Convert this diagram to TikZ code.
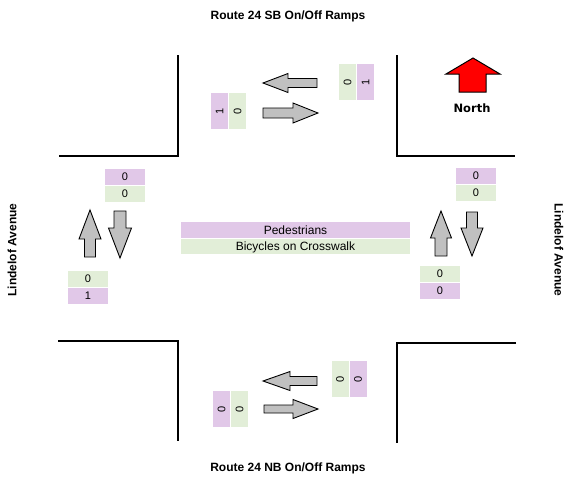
\documentclass[tikz,border=0pt]{standalone}
\usepackage{fontspec}
\setmainfont{Liberation Sans}
\newfontfamily\northfont{DejaVu Sans}
\usetikzlibrary{positioning}
\definecolor{pedcol}{RGB}{225,200,232}
\definecolor{bikecol}{RGB}{226,238,216}
\definecolor{arrowgray}{RGB}{192,192,192}

\tikzset{
  curb/.style={line width=2.5pt},
  blockarrow/.style={draw=black,line width=0.9pt,fill=arrowgray,line join=miter},
  cell/.style={inner sep=0pt,font=\fontsize{11}{13}\selectfont},
  pedbox/.style={cell,fill=pedcol},
  bikebox/.style={cell,fill=bikecol},
  vcell/.style={rotate=90,minimum width=36pt,minimum height=17pt},
  hcell/.style={minimum width=40pt,minimum height=15.5pt},
  roadname/.style={font=\bfseries\fontsize{12}{14}\selectfont}
}

\begin{document}
\begin{tikzpicture}[x=1pt,y=-1pt]
\useasboundingbox (0,0) rectangle (567,477);

% road edges
\draw[curb] (178,55) -- (178,156) -- (59,156);
\draw[curb] (397,55) -- (397,156) -- (515,156);
\draw[curb] (58,341) -- (178,341) -- (178,441);
\draw[curb] (516,343) -- (397,343) -- (397,443);

% road names
\node[roadname] (sbramps) at (288,16) {Route 24 SB On/Off Ramps};
\node[roadname] (nbramps) at (288,468) {Route 24 NB On/Off Ramps};
\node[roadname,rotate=90] (westave) at (12,250) {Lindelof Avenue};
\node[roadname,rotate=-90] (eastave) at (559,250) {Lindelof Avenue};

% north arrow
\draw[draw=black,line width=1pt,fill=red] (473,58) -- (500,74) -- (486,74) -- (486,92)
  -- (459,92) -- (459,74) -- (446,74) -- cycle;
\node[font=\northfont\bfseries\fontsize{11.5}{13}\selectfont] (north) at (472,108) {North};

% traffic arrows: tip x / tip y / angle / length / head length / head half / shaft half
\foreach \tx/\ty/\ang/\len/\hl/\hh/\hs in {
    263/83/180/54/25/9.5/4.5, 318/113/0/55/25/10/5,
    263/381/180/54/27/9.5/4.5, 318/409/0/54/25/9.5/4,
    90/210/90/47/29/11/5.5, 120/258/-90/47/30/11.5/6,
    441/211/90/45/27/10.5/6, 472/256/-90/44/28/11/5.5} {
  \draw[blockarrow,shift={(\tx,\ty)},rotate=\ang]
    (0,0) -- (-\hl,\hh) -- (-\hl,\hs) -- (-\len,\hs) -- (-\len,-\hs)
    -- (-\hl,-\hs) -- (-\hl,-\hh) -- cycle;
}

% counts on the ramps
\node[pedbox,vcell] (sbped) at (219.5,111) {1};
\node[bikebox,vcell] (sbbike) at (237.5,111) {0};
\node[bikebox,vcell] (sbbikeb) at (347.5,82) {0};
\node[pedbox,vcell] (sbpedb) at (365.5,82) {1};
\node[pedbox,vcell] (nbped) at (221.5,409) {0};
\node[bikebox,vcell] (nbbike) at (239.5,409) {0};
\node[bikebox,vcell] (nbbikeb) at (340,379) {0};
\node[pedbox,vcell] (nbpedb) at (358,379) {0};

% counts on the avenue
\node[pedbox,hcell] (wped) at (125,177) {0};
\node[bikebox,hcell,below=1pt of wped] (wbike) {0};
\node[bikebox,hcell] (wbikeb) at (88,279) {0};
\node[pedbox,hcell,below=1pt of wbikeb] (wpedb) {1};
\node[pedbox,hcell] (eped) at (476,176) {0};
\node[bikebox,hcell,below=1pt of eped] (ebike) {0};
\node[bikebox,hcell] (ebikeb) at (440,274) {0};
\node[pedbox,hcell,below=1pt of ebikeb] (epedb) {0};

% legend
\node[pedbox,minimum width=229pt,minimum height=16pt,font=\fontsize{12}{14}\selectfont]
  (legped) at (295.5,230) {Pedestrians};
\node[bikebox,minimum width=229pt,minimum height=15pt,font=\fontsize{12}{14}\selectfont,
  below=1pt of legped] (legbike) {Bicycles on Crosswalk};

\end{tikzpicture}
\end{document}
